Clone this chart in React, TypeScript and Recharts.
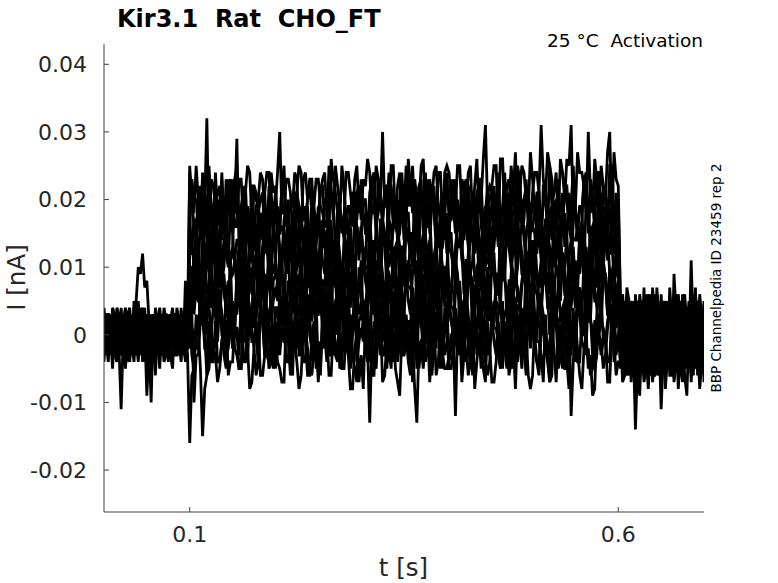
import React from 'react';
import { LineChart, Line, XAxis, YAxis } from 'recharts';

// time in ms (0 .. 700, 2.5 ms grid)
const timeMs = [
  0, 2.5, 5, 7.5, 10, 12.5, 15, 17.5, 20, 22.5, 25, 27.5, 30, 32.5, 35, 37.5, 40, 42.5, 45, 47.5,
  50, 52.5, 55, 57.5, 60, 62.5, 65, 67.5, 70, 72.5, 75, 77.5, 80, 82.5, 85, 87.5, 90, 92.5, 95, 97.5,
  100, 102.5, 105, 107.5, 110, 112.5, 115, 117.5, 120, 122.5, 125, 127.5, 130, 132.5, 135, 137.5, 140, 142.5, 145, 147.5,
  150, 152.5, 155, 157.5, 160, 162.5, 165, 167.5, 170, 172.5, 175, 177.5, 180, 182.5, 185, 187.5, 190, 192.5, 195, 197.5,
  200, 202.5, 205, 207.5, 210, 212.5, 215, 217.5, 220, 222.5, 225, 227.5, 230, 232.5, 235, 237.5, 240, 242.5, 245, 247.5,
  250, 252.5, 255, 257.5, 260, 262.5, 265, 267.5, 270, 272.5, 275, 277.5, 280, 282.5, 285, 287.5, 290, 292.5, 295, 297.5,
  300, 302.5, 305, 307.5, 310, 312.5, 315, 317.5, 320, 322.5, 325, 327.5, 330, 332.5, 335, 337.5, 340, 342.5, 345, 347.5,
  350, 352.5, 355, 357.5, 360, 362.5, 365, 367.5, 370, 372.5, 375, 377.5, 380, 382.5, 385, 387.5, 390, 392.5, 395, 397.5,
  400, 402.5, 405, 407.5, 410, 412.5, 415, 417.5, 420, 422.5, 425, 427.5, 430, 432.5, 435, 437.5, 440, 442.5, 445, 447.5,
  450, 452.5, 455, 457.5, 460, 462.5, 465, 467.5, 470, 472.5, 475, 477.5, 480, 482.5, 485, 487.5, 490, 492.5, 495, 497.5,
  500, 502.5, 505, 507.5, 510, 512.5, 515, 517.5, 520, 522.5, 525, 527.5, 530, 532.5, 535, 537.5, 540, 542.5, 545, 547.5,
  550, 552.5, 555, 557.5, 560, 562.5, 565, 567.5, 570, 572.5, 575, 577.5, 580, 582.5, 585, 587.5, 590, 592.5, 595, 597.5,
  600, 602.5, 605, 607.5, 610, 612.5, 615, 617.5, 620, 622.5, 625, 627.5, 630, 632.5, 635, 637.5, 640, 642.5, 645, 647.5,
  650, 652.5, 655, 657.5, 660, 662.5, 665, 667.5, 670, 672.5, 675, 677.5, 680, 682.5, 685, 687.5, 690, 692.5, 695, 697.5,
  700,
];

// current in pA (1 nA = 1000 pA)
// before the step, samples at 0, 5, ... 95 ms
const preStep = [
  [1, -2, 3, -4, 0, 2, -3, 1, -1, 4, -2, 0, 3, -5, 1, -1, 2, -3, 0, 1],
  [-3, 2, -1, 3, -11, 1, 0, -2, 5, -1, 2, -4, 1, 3, -2, 0, -5, 2, -1, 0],
  [2, -4, 0, 1, 3, -2, 4, -1, -3, 2, -1, 3, -6, 0, 2, -3, 1, 4, -2, -1],
  [-1, 3, -3, 0, 2, -5, 1, 3, -1, -4, -9, 1, -2, 2, -4, 1, 3, -1, 2, -3],
  [4, -1, 2, -3, -1, 3, -2, 0, 10, 12, 8, -3, 0, 1, -1, 3, -2, 0, -4, 2],
  [0, 1, -5, 2, 1, 0, 3, -4, 2, 1, -3, 2, 4, -1, 0, -2, 1, -1, 3, -2],
  [-2, 0, 1, 4, -2, -1, 2, 1, -4, 0, 1, -10, 2, -3, 3, 1, -1, -2, 1, 4],
  [3, -3, 0, -1, 4, 1, -4, 2, 0, -2, 0, 2, -1, 4, -3, 2, 0, 3, -1, -4],
  [-4, 2, -2, 1, -3, 4, 0, -1, 3, 2, -1, 0, 3, -2, 1, -4, 2, 1, 0, 8],
  [0, -1, 2, -2, 1, -3, -1, 5, 1, -3, 2, -2, -1, 1, 4, 0, -3, -1, 2, -2],
  [2, -1, -3, 1, 3, -2, 0, 4, -2, 1, -4, 2, 0, -1, 3, -3, 1, -2, 4, 0],
  [-1, 3, 0, -4, 2, 1, -3, 0, 2, -2, 3, -1, -4, 2, 0, 3, -2, 1, -3, 2],
  [3, 0, -2, 2, -3, 4, 1, -3, 0, 3, -2, 1, 2, -4, -1, 2, 0, -3, 1, -1],
  [-2, 1, 4, -1, 0, -3, 2, 1, -2, 0, 2, -3, 1, 3, -2, -1, 4, 0, -2, 3],
];
// before the step, samples at 2.5, 7.5, ... 97.5 ms
const preStepMid = [
  [-2, 1, -3, 2, 1, -4, 2, 0, 3, -2, 1, -3, -1, 2, -2, 3, -1, 0, 2, -3],
  [2, -1, 3, -2, 0, 2, -3, 1, -1, 3, -2, 1, 3, -2, 1, -3, 2, -1, 3, -1],
  [-1, 3, -2, -3, 1, 3, -1, 2, 0, -4, 2, -1, 2, -3, 3, 0, -2, 2, -3, 1],
  [3, -2, 1, 2, -3, 0, 2, -3, 4, 1, -2, 3, -1, 0, -3, 2, 1, -2, 0, 2],
  [0, 2, -1, 1, -2, -1, 3, 5, 9, 7, 2, 0, -2, 3, 1, -2, 3, -1, 1, -2],
  [-3, 0, 2, -1, 3, -2, -1, 1, -2, 4, 0, -3, 1, 2, -1, 2, -3, 1, -2, 3],
  [1, -3, -2, 3, 0, 2, -2, -1, 2, -3, -1, 2, 0, -2, 3, -1, 2, -3, 1, 0],
  [-2, 2, 3, -3, -1, 1, 0, -2, 3, 1, -3, -1, 2, 1, -2, 0, 3, -2, -1, 3],
  [2, -2, 0, 3, -1, -3, 2, 3, -2, 0, 2, -2, -3, 1, 2, -1, 0, 3, -2, 1],
  [-1, 1, -2, 0, 3, 1, -3, 2, 1, -2, 3, 0, -2, -1, 2, -3, 1, 2, -1, -2],
  [1, -2, 2, -3, 1, 3, -1, -2, 2, 0, -1, 3, -2, 1, -3, 1, 2, -1, 0, 2],
  [3, 0, -2, 1, -3, 2, 1, -1, -3, 2, 0, -2, 3, -1, 1, -2, 3, 0, -2, -1],
  [-2, 3, 1, -1, 2, -3, 0, 2, -1, -2, 3, 1, -1, 2, -2, 3, -3, 1, 2, 0],
  [0, -1, 3, -2, 2, 1, -3, 0, 2, 1, -2, 2, 1, -3, 0, 2, -1, -3, 1, 2],
];

// during the step, samples at 100, 105, ... 600 ms
const duringStep = [
  [
    -16, -5, 1, -15, -6, 0, -3, -5, 2, -6,
    -4, 1, -5, 0, -8, -2, 1, -6, -1, -4,
    0, -5, -7, -1, 2, -4, -6, 1, -5, -2,
    -7, -2, 0, -6, -1, 3, -5, -3, -8, 0,
    -3, 2, -13, -4, 1, -7, -1, 0, -5, -9,
    1, -4, -1, -13, -2, 0, -7, 2, -4, -3,
    -5, 0, -12, 1, -3, -6, 2, -4, -1, -7,
    -2, -7, 2, -5, 0, -4, -8, -1, 1, -6,
    -6, -1, -3, 3, -7, -2, 0, -5, -4, 2,
    2, -6, -2, -5, -9, 1, -3, 0, -7, -1,
    -4,
  ],
  [
    -2, -10, -3, 2, -6, 0, 3, -4, 1, -2,
    2, -3, -5, 1, 4, -2, -4, 3, -3, 0,
    -5, 0, 2, -4, 1, 5, -3, -1, -6, 2,
    -1, 4, -4, -2, 3, -5, 1, 2, -3, -7,
    3, -2, 1, -6, 0, 2, -5, 4, -2, -1,
    -3, 2, -7, 3, -1, -4, 4, -2, 1, -5,
    0, -5, 4, -3, 2, -2, -6, 1, 3, -4,
    -4, 1, -1, 5, -5, 0, 2, -3, -2, 4,
    4, -4, 0, -3, -7, 3, -1, 2, -5, -12,
    1, -4, 3, -2, -5, 2, -1, -3, 4, -4,
    0,
  ],
  [
    5, 0, -2, 4, 7, 1, -1, 6, 0, 3,
    -2, 3, 5, -1, 4, 8, 0, 2, -3, 5,
    2, 7, -1, 1, 6, -2, 4, 5, 0, -4,
    6, 1, 4, -3, 3, 5, -2, 7, 1, 2,
    0, 5, -4, 6, 2, -1, 7, 1, 4, -2,
    3, -2, 7, 0, 5, 1, -3, 4, 6, -1,
    -1, 4, 2, 8, -2, 3, 5, 0, 1, 7,
    7, -1, 3, 0, -4, 6, 2, 5, -2, 4,
    4, -1, 6, 1, -2, 5, 2, 0, 7, -1,
    1, 6, 0, 5, -3, 3, 6, -1, 4, 1,
    2,
  ],
  [
    1, 6, 8, 2, 7, 11, 3, 5, 0, 8,
    5, 10, 2, 4, 9, 1, 7, 8, 3, -1,
    9, 4, 7, 0, 6, 8, 1, 10, 4, 5,
    3, 8, -1, 9, 5, 2, 10, 4, 7, 1,
    6, 1, 10, 3, 8, 4, 0, 7, 9, 2,
    2, 7, 5, 11, 1, 6, 8, 3, 4, 10,
    10, 2, 6, 3, -1, 9, 5, 8, 1, 7,
    7, 2, 9, 4, 1, 8, 5, 3, 10, 2,
    4, 9, 3, 8, 0, 6, 9, 2, 7, 4,
    8, 3, 1, 7, 10, 4, 2, 9, 3, 6,
    5,
  ],
  [
    8, 13, 5, 7, 12, 4, 10, 11, 6, 2,
    12, 7, 10, 3, 9, 11, 4, 13, 7, 8,
    6, 11, 2, 12, 8, 5, 13, 7, 10, 4,
    9, 4, 13, 6, 11, 7, 3, 10, 12, 5,
    5, 10, 8, 14, 4, 9, 11, 6, 7, 13,
    13, 5, 9, 6, 2, 12, 8, 11, 4, 10,
    10, 5, 12, 7, 4, 11, 8, 6, 13, 5,
    7, 12, 6, 11, 3, 9, 12, 5, 10, 7,
    11, 6, 4, 10, 13, 7, 5, 12, 6, 9,
    4, 9, 11, 5, 10, 14, 6, 8, 3, 11,
    8,
  ],
  [
    15, 10, 13, 6, 12, 14, 7, 16, 10, 11,
    9, 14, 5, 15, 11, 8, 16, 10, 13, 7,
    12, 7, 16, 9, 14, 10, 6, 13, 15, 8,
    8, 13, 11, 17, 7, 12, 14, 9, 10, 16,
    16, 8, 12, 9, 5, 15, 11, 14, 7, 13,
    13, 8, 15, 10, 7, 14, 11, 9, 16, 8,
    10, 15, 9, 14, 6, 12, 15, 8, 13, 10,
    14, 9, 7, 13, 16, 10, 8, 15, 9, 12,
    7, 12, 14, 8, 13, 17, 9, 11, 6, 14,
    11, 16, 8, 10, 15, 7, 13, 14, 9, 5,
    11,
  ],
  [
    12, 17, 8, 18, 14, 11, 19, 13, 16, 10,
    15, 10, 19, 12, 17, 13, 9, 16, 18, 11,
    11, 16, 14, 20, 10, 15, 17, 12, 13, 19,
    19, 11, 15, 12, 8, 18, 14, 17, 10, 16,
    16, 11, 18, 13, 10, 17, 14, 12, 19, 11,
    13, 18, 12, 17, 9, 15, 18, 11, 16, 13,
    17, 12, 10, 16, 19, 13, 11, 18, 12, 15,
    10, 15, 17, 11, 16, 20, 12, 14, 9, 17,
    14, 19, 11, 13, 18, 10, 16, 17, 12, 8,
    18, 13, 16, 9, 15, 17, 10, 19, 13, 14,
    14,
  ],
  [
    17, 12, 21, 14, 19, 15, 11, 18, 20, 13,
    13, 18, 16, 22, 12, 17, 19, 14, 15, 21,
    21, 13, 17, 14, 10, 20, 16, 19, 12, 18,
    18, 13, 20, 15, 12, 19, 16, 14, 21, 13,
    15, 20, 14, 19, 11, 17, 20, 13, 18, 15,
    19, 14, 12, 18, 21, 15, 13, 20, 14, 17,
    12, 17, 19, 13, 18, 22, 14, 16, 11, 19,
    16, 21, 13, 15, 20, 12, 18, 19, 14, 10,
    20, 15, 18, 11, 17, 19, 12, 21, 15, 16,
    14, 19, 10, 20, 16, 13, 21, 15, 18, 12,
    16,
  ],
  [
    15, 20, 18, 24, 14, 19, 21, 16, 17, 23,
    23, 29, 19, 16, 12, 22, 18, 21, 14, 20,
    20, 15, 22, 17, 14, 21, 18, 16, 23, 15,
    17, 22, 16, 21, 13, 19, 22, 15, 20, 17,
    21, 16, 14, 20, 23, 17, 15, 22, 16, 19,
    14, 19, 21, 15, 20, 24, 16, 18, 13, 21,
    18, 23, 15, 17, 22, 14, 20, 21, 16, 12,
    22, 17, 20, 13, 19, 21, 14, 23, 17, 18,
    16, 21, 12, 22, 18, 15, 23, 17, 20, 14,
    19, 14, 23, 16, 21, 17, 13, 20, 22, 15,
    18,
  ],
  [
    24, 16, 20, 17, 32, 23, 19, 22, 15, 21,
    21, 16, 23, 18, 15, 22, 19, 17, 24, 16,
    19, 30, 18, 23, 15, 21, 24, 17, 22, 19,
    23, 18, 16, 22, 25, 19, 17, 24, 18, 21,
    17, 22, 24, 18, 23, 30, 19, 21, 16, 24,
    21, 26, 18, 20, 25, 17, 23, 24, 19, 15,
    25, 20, 23, 16, 22, 24, 17, 26, 20, 31,
    20, 25, 16, 26, 22, 19, 27, 21, 24, 18,
    23, 18, 31, 20, 25, 21, 17, 24, 26, 31,
    19, 24, 22, 30, 18, 23, 25, 20, 30, 27,
    22,
  ],
  [
    3, -5, 1, 4, -2, -4, 2, 5, -3, 0,
    -2, 1, 5, -4, 3, -1, -5, 2, 4, -3,
    4, -3, -1, 5, -6, 2, 1, -4, 3, -2,
    -5, 2, 4, -1, -3, 5, -2, 3, 0, -4,
    1, 4, -4, 2, 5, -3, 3, -5, 2, -1,
    -3, -1, 3, -5, 2, 4, -4, 1, 5, -2,
    5, -2, 0, 3, -4, -1, 4, -3, -5, 2,
    -1, 5, -3, 1, 4, -5, 0, 3, -2, 4,
    2, -4, 5, -2, -1, 3, -5, 4, 1, -3,
    -4, 3, -2, 6, 1, -3, 2, -1, -4, 5,
    0,
  ],
  [
    10, 3, 5, 11, 0, 8, 7, 2, 9, 4,
    1, 8, 10, 5, 3, 11, 4, 9, 6, 2,
    7, 10, 2, 8, 11, 3, 9, 1, 8, 5,
    3, 5, 9, 1, 8, 10, 2, 7, 11, 4,
    11, 4, 6, 9, 2, 5, 10, 3, 1, 8,
    5, 11, 3, 7, 10, 1, 6, 9, 4, 10,
    8, 2, 11, 4, 5, 9, 1, 10, 7, 3,
    2, 9, 4, 12, 7, 3, 8, 5, 2, 11,
    9, 1, 7, 10, 4, 2, 8, 11, 3, 6,
    4, 7, 11, 2, 9, 5, 1, 8, 10, 3,
    6,
  ],
  [
    13, 16, 8, 14, 17, 9, 15, 7, 14, 11,
    9, 11, 15, 7, 14, 16, 8, 13, 17, 10,
    17, 10, 12, 15, 8, 11, 16, 9, 7, 14,
    11, 17, 9, 13, 16, 7, 12, 15, 10, 16,
    14, 8, 17, 10, 11, 15, 7, 16, 13, 9,
    8, 15, 10, 18, 13, 9, 14, 11, 8, 17,
    15, 7, 13, 16, 10, 8, 14, 17, 9, 12,
    10, 13, 17, 8, 15, 11, 7, 14, 16, 9,
    16, 9, 11, 17, 6, 14, 13, 8, 15, 10,
    7, 14, 16, 11, 9, 17, 10, 15, 12, 8,
    12,
  ],
  [
    25, 18, 20, 23, 16, 19, 24, 17, 15, 22,
    19, 25, 17, 21, 24, 15, 20, 23, 18, 24,
    22, 16, 25, 18, 19, 23, 15, 24, 21, 17,
    16, 23, 18, 26, 21, 17, 22, 19, 16, 25,
    23, 15, 21, 24, 18, 16, 22, 25, 17, 20,
    18, 21, 25, 16, 23, 19, 15, 22, 24, 17,
    24, 17, 19, 25, 14, 22, 21, 16, 23, 18,
    15, 22, 24, 19, 17, 25, 18, 23, 20, 16,
    21, 24, 16, 22, 25, 17, 23, 15, 22, 19,
    17, 19, 23, 15, 22, 24, 16, 21, 25, 18,
    20,
  ],
];

// during the step, samples at 102.5, 107.5, ... 597.5 ms
const duringStepMid = [
  [
    -6, 1, -5, -8, 0, -2, -7, -1, 2, -4,
    1, -5, 0, -2, -7, 2, -6, -3, -5, 0,
    -4, -7, 2, -6, -1, -8, 1, -2, -6, -1,
    -1, 2, -6, 1, -4, -5, 0, -8, -2, -7,
    -8, -2, -1, -5, 2, -6, -4, 1, -7, 0,
    0, -6, -8, -1, -5, 1, -2, -6, 2, -5,
    -3, 0, 1, -7, -2, -4, -8, 0, -5, 2,
    -7, -4, -2, 2, -6, -1, 1, -5, 0, -8,
    2, -1, -7, -4, 1, -7, -3, 2, -8, -2,
    -2, -8, 0, -3, -8, 0, -1, -7, 1, -6,
  ],
  [
    3, -3, 2, 0, -5, 4, -4, -1, -3, 2,
    -2, -5, 4, -4, 1, -6, 3, 0, -4, 1,
    1, 4, -4, 3, -2, -3, 2, -6, 0, -5,
    -6, 0, 1, -3, 4, -4, -2, 3, -5, 2,
    2, -4, -6, 1, -3, 3, 0, -4, 4, -3,
    -1, 2, 3, -5, 0, -2, -6, 2, -3, 4,
    -5, -2, 0, 4, -4, 1, 3, -3, 2, -6,
    4, 1, -5, -2, 3, -5, -1, 4, -6, 0,
    0, -6, 2, -1, -6, 2, 1, -5, 3, -4,
    -4, 3, -3, -6, 2, 0, -5, 1, 4, -2,
  ],
  [
    1, -2, 7, -1, 4, -3, 6, 3, -1, 4,
    4, 7, -1, 6, 1, 0, 5, -3, 3, -2,
    -3, 3, 4, 0, 7, -1, 1, 6, -2, 5,
    5, -1, -3, 4, 0, 6, 3, -1, 7, 0,
    2, 5, 6, -2, 3, 1, -3, 5, 0, 7,
    -2, 1, 3, 7, -1, 4, 6, 0, 5, -3,
    7, 4, -2, 1, 6, -2, 2, 7, -3, 3,
    3, -3, 5, 2, -3, 5, 4, -2, 6, -1,
    -1, 6, 0, -3, 5, 3, -2, 4, 7, 1,
    6, 0, 5, 3, -2, 7, -1, 2, 0, 5,
  ],
  [
    7, 10, 2, 9, 4, 3, 8, 0, 6, 1,
    0, 6, 7, 3, 10, 2, 4, 9, 1, 8,
    8, 2, 0, 7, 3, 9, 6, 2, 10, 3,
    5, 8, 9, 1, 6, 4, 0, 8, 3, 10,
    1, 4, 6, 10, 2, 7, 9, 3, 8, 0,
    10, 7, 1, 4, 9, 1, 5, 10, 0, 6,
    6, 0, 8, 5, 0, 8, 7, 1, 9, 2,
    2, 9, 3, 0, 8, 6, 1, 7, 10, 4,
    9, 3, 8, 6, 1, 10, 2, 5, 3, 8,
    4, 1, 10, 2, 7, 0, 9, 6, 2, 7,
  ],
  [
    3, 9, 10, 6, 13, 5, 7, 12, 4, 11,
    11, 5, 3, 10, 6, 12, 9, 5, 13, 6,
    8, 11, 12, 4, 9, 7, 3, 11, 6, 13,
    4, 7, 9, 13, 5, 10, 12, 6, 11, 3,
    13, 10, 4, 7, 12, 4, 8, 13, 3, 9,
    9, 3, 11, 8, 3, 11, 10, 4, 12, 5,
    5, 12, 6, 3, 11, 9, 4, 10, 13, 7,
    12, 6, 11, 9, 4, 13, 5, 8, 6, 11,
    7, 4, 13, 5, 10, 3, 12, 9, 5, 10,
    10, 13, 5, 12, 7, 6, 11, 3, 9, 4,
  ],
  [
    14, 8, 6, 13, 9, 15, 12, 8, 16, 9,
    11, 14, 15, 7, 12, 10, 6, 14, 9, 16,
    7, 10, 12, 16, 8, 13, 15, 9, 14, 6,
    16, 13, 7, 10, 15, 7, 11, 16, 6, 12,
    12, 6, 14, 11, 6, 14, 13, 7, 15, 8,
    8, 15, 9, 6, 14, 12, 7, 13, 16, 10,
    15, 9, 14, 12, 7, 16, 8, 11, 9, 14,
    10, 7, 16, 8, 13, 6, 15, 12, 8, 13,
    13, 16, 8, 15, 10, 9, 14, 6, 12, 7,
    6, 12, 13, 9, 16, 8, 10, 15, 7, 14,
  ],
  [
    14, 17, 18, 10, 15, 13, 9, 17, 12, 19,
    10, 13, 15, 19, 11, 16, 18, 12, 17, 9,
    19, 16, 10, 13, 18, 10, 14, 19, 9, 15,
    15, 9, 17, 14, 9, 17, 16, 10, 18, 11,
    11, 18, 12, 9, 17, 15, 10, 16, 19, 13,
    18, 12, 17, 15, 10, 19, 11, 14, 12, 17,
    13, 10, 19, 11, 16, 9, 18, 15, 11, 16,
    16, 19, 11, 18, 13, 12, 17, 9, 15, 10,
    9, 15, 16, 12, 19, 11, 13, 18, 10, 17,
    17, 11, 9, 16, 12, 18, 15, 11, 19, 12,
  ],
  [
    12, 15, 17, 21, 13, 18, 20, 14, 19, 11,
    21, 18, 12, 15, 20, 12, 16, 21, 11, 17,
    17, 11, 19, 16, 11, 19, 18, 12, 20, 13,
    13, 20, 14, 11, 19, 17, 12, 18, 21, 15,
    20, 14, 19, 17, 12, 21, 13, 16, 14, 19,
    15, 12, 21, 13, 18, 11, 20, 17, 13, 18,
    18, 21, 13, 20, 15, 14, 19, 11, 17, 12,
    11, 17, 18, 14, 21, 13, 15, 20, 12, 19,
    19, 13, 11, 18, 14, 20, 17, 13, 21, 14,
    16, 19, 20, 12, 17, 15, 11, 19, 14, 21,
  ],
  [
    23, 20, 14, 17, 22, 14, 18, 23, 13, 19,
    19, 13, 21, 18, 13, 21, 20, 14, 22, 15,
    15, 22, 16, 13, 21, 19, 14, 20, 23, 17,
    22, 16, 21, 19, 14, 23, 15, 18, 16, 21,
    17, 14, 23, 15, 20, 13, 22, 19, 15, 20,
    20, 23, 15, 22, 17, 16, 21, 13, 19, 14,
    13, 19, 20, 16, 23, 15, 17, 22, 14, 21,
    21, 15, 13, 20, 16, 22, 19, 15, 23, 16,
    18, 21, 22, 14, 19, 17, 13, 21, 16, 23,
    14, 17, 19, 23, 15, 20, 22, 16, 21, 13,
  ],
  [
    20, 14, 22, 19, 14, 22, 21, 15, 23, 16,
    16, 23, 17, 14, 22, 20, 15, 21, 24, 18,
    24, 18, 23, 21, 16, 25, 17, 20, 18, 23,
    19, 16, 25, 17, 22, 15, 24, 21, 17, 22,
    23, 26, 18, 25, 20, 19, 24, 16, 22, 17,
    16, 22, 23, 19, 26, 18, 20, 25, 17, 24,
    24, 18, 16, 23, 19, 25, 22, 18, 26, 19,
    22, 25, 26, 18, 23, 21, 17, 25, 20, 27,
    18, 21, 23, 27, 19, 24, 26, 20, 25, 17,
    27, 24, 18, 21, 26, 18, 22, 27, 17, 23,
  ],
  [
    -3, 3, 5, -2, 2, -4, -1, 3, -5, 2,
    0, -3, -4, 4, -1, 1, 5, -3, 2, -5,
    4, 1, -1, -5, 3, -2, -4, 2, -3, 5,
    -5, -2, 4, 1, -4, 4, 0, -5, 5, -1,
    -1, 5, -3, 0, 5, -3, -2, 4, -4, 3,
    3, -4, 2, 5, -3, -1, 4, -2, -5, 1,
    -4, 2, -3, -1, 4, -5, 3, 0, 2, -3,
    1, 4, -5, 3, -2, 5, -4, -1, 3, -2,
    -2, -5, 3, -4, 1, 2, -3, 5, -1, 4,
    5, -1, -2, 2, -5, 3, 1, -4, 4, -3,
  ],
  [
    10, 7, 5, 1, 9, 4, 2, 8, 3, 11,
    1, 4, 10, 7, 2, 10, 6, 1, 11, 5,
    5, 11, 3, 6, 11, 3, 4, 10, 2, 9,
    9, 2, 8, 11, 3, 5, 10, 4, 1, 7,
    2, 8, 3, 5, 10, 1, 9, 6, 8, 3,
    7, 10, 1, 9, 4, 11, 2, 5, 9, 4,
    4, 1, 9, 2, 7, 8, 3, 11, 5, 10,
    11, 5, 4, 8, 1, 9, 7, 2, 10, 3,
    3, 9, 11, 4, 8, 2, 5, 9, 1, 8,
    6, 3, 2, 10, 5, 7, 11, 3, 8, 1,
  ],
  [
    13, 16, 7, 15, 10, 17, 8, 11, 15, 10,
    10, 7, 15, 8, 13, 14, 9, 17, 11, 16,
    17, 11, 10, 14, 7, 15, 13, 8, 16, 9,
    9, 15, 17, 10, 14, 8, 11, 15, 7, 14,
    12, 9, 8, 16, 11, 13, 17, 9, 14, 7,
    16, 13, 11, 7, 15, 10, 8, 14, 9, 17,
    7, 10, 16, 13, 8, 16, 12, 7, 17, 11,
    11, 17, 9, 12, 17, 9, 10, 16, 8, 15,
    15, 8, 14, 17, 9, 11, 16, 10, 7, 13,
    8, 14, 9, 11, 16, 7, 15, 12, 14, 9,
  ],
  [
    19, 25, 17, 20, 25, 17, 18, 24, 16, 23,
    23, 16, 22, 25, 17, 19, 24, 18, 15, 21,
    16, 22, 17, 19, 24, 15, 23, 20, 22, 17,
    21, 24, 15, 23, 18, 25, 16, 19, 23, 18,
    18, 15, 23, 16, 21, 22, 17, 25, 19, 24,
    25, 19, 18, 22, 15, 23, 21, 16, 24, 17,
    17, 23, 25, 18, 22, 16, 19, 23, 15, 22,
    20, 17, 16, 24, 19, 21, 25, 17, 22, 15,
    24, 21, 19, 15, 23, 18, 16, 22, 17, 25,
    15, 18, 24, 21, 16, 24, 20, 15, 25, 19,
  ],
];

// after the step, samples at 605, 610, ... 700 ms
const postStep = [
  [2, -6, 3, -2, 5, -4, 0, -7, 4, -1, 2, -5, 6, -3, -1, 3, -6, 1, -2, 4],
  [-5, 1, -3, 6, -2, 0, -8, 3, -4, 5, -1, -3, 2, -6, 4, 0, -2, 7, -4, 1],
  [3, -4, -1, 2, -9, 4, -2, 5, -3, 0, -6, 3, -1, 4, -5, -2, 6, -3, 1, -7],
  [-2, 5, -6, 0, 3, -3, 6, -5, 1, -4, 4, -2, -7, 1, 3, -5, 0, 2, -6, 3],
  [6, -3, 2, -5, -1, 7, -4, 1, -2, 3, -8, 5, 0, -4, 2, 1, 11, -1, 5, -2],
  [-7, 2, 4, -14, 1, -6, 3, -1, 5, -11, 1, -2, 4, -5, 0, 3, -4, 6, -1, -3],
  [1, -2, -5, 4, -3, 2, -1, -6, 3, 1, -4, 7, -3, 0, -6, 2, 4, -5, 3, 0],
  [-3, 7, 0, -4, 6, -2, -5, 2, -1, 4, -3, 0, 9, -2, -4, 1, -7, 3, -2, 5],
  [4, -5, 1, 3, -6, 0, 2, -4, 7, -2, 5, -6, 1, -3, 6, -1, -3, 4, -8, 2],
  [-1, 3, -2, -7, 2, 5, -3, 0, -5, 6, -2, 4, -4, 3, -1, -9, 2, -2, 4, -5],
  [5, -3, 0, -6, 3, 1, -4, 6, -2, -5, 3, 0, -3, 5, -7, 2, -1, 4, -4, 1],
  [-4, 2, -7, 3, 0, -5, 4, -2, 6, -3, -1, 5, -6, 2, -2, 4, -5, 0, 3, -6],
  [1, 6, -4, -1, 4, -7, 2, -3, 0, 5, -5, 2, 3, -8, 1, -3, 5, -2, -4, 2],
  [-6, 0, 5, -3, -4, 3, -2, 7, -6, 1, 4, -4, -2, 6, -3, 0, -5, 1, 6, -2],
];
// after the step, samples at 602.5, 607.5, ... 697.5 ms
const postStepMid = [
  [-4, 1, -5, 2, -2, 3, -6, 1, -3, 2, 5, -4, 0, 2, -5, 4, -2, -4, 3, -1],
  [3, -4, 2, -5, 1, 4, -3, -1, 6, -2, -5, 1, 4, -3, 0, -5, 3, -1, -6, 4],
  [-1, 5, -3, 4, -6, 0, 3, -4, 2, -5, 3, -2, -4, 6, -2, 1, -5, 4, -2, 2],
  [4, -2, 1, -6, 2, -5, 1, 4, -3, 3, -6, 2, 0, -4, 5, -3, 2, -6, 4, -1],
  [-3, 2, -4, 3, 4, -2, -5, 3, 0, -6, 2, -3, 5, -1, -4, 6, -2, 1, -3, 4],
  [1, -6, 3, -1, -4, 5, -2, -5, 4, 0, -3, 5, -2, 3, -6, 1, 4, -3, 2, -5],
  [-5, 3, 0, -2, 5, -4, 2, -3, -6, 4, 1, -4, 2, -5, 3, -2, -1, 5, -4, 1],
  [2, -3, 5, -5, -1, 3, -4, 6, -2, -3, 4, -1, -5, 3, 1, -4, 5, -2, 0, -3],
  [-2, 4, -6, 1, 3, -3, 5, -2, -4, 2, -1, 3, -6, 4, -3, 2, -4, 6, -1, -4],
  [5, -1, -3, 2, -5, 1, 4, -6, 3, -2, 0, -5, 3, -2, 4, -6, 1, -3, 5, 0],
  [-4, 3, -2, 5, -3, -1, 6, -4, 1, -2, 5, -3, -1, 4, -5, 3, 0, -4, 2, -3],
  [2, -5, 4, -2, 1, -4, -1, 5, -3, 2, -4, 3, -2, -5, 4, -1, 2, -3, 5, -2],
  [-3, 0, 3, -4, 5, -2, -5, 2, 4, -6, 0, 4, -3, 1, -2, 5, -4, 2, -1, 3],
  [4, -4, -1, 3, -2, 5, -3, -6, 2, 3, -5, 1, 5, -3, 2, -4, 3, -5, 0, 2],
];

const xTicks = [100, 600];
const yTicks = [-20, -10, 0, 10, 20, 30, 40];

// each sweep, in time order
const traces = preStep.map((pre, k) => {
  const out: number[] = [];
  pre.forEach((v, i) => {
    out.push(v, preStepMid[k][i]);
  });
  duringStep[k].forEach((v, i) => {
    out.push(v);
    if (i < duringStepMid[k].length) out.push(duringStepMid[k][i]);
  });
  postStep[k].forEach((v, i) => {
    out.push(postStepMid[k][i], v);
  });
  return out;
});

const data = timeMs.map((t, i) => {
  const row: Record<string, number> = { t };
  traces.forEach((tr, k) => {
    row['s' + k] = tr[i];
  });
  return row;
});

const FONT = "'DejaVu Sans', sans-serif";
const AXIS = '#404040';
const fmtX = (v: number) => String(v / 1000);
const fmtY = (v: number) => (v === 0 ? '0' : String(v / 1000));

const X_MARGIN = 14;
const Y_MARGIN = 17;
const TICK_LEN = 5;

// bottom-axis tick: inward tick mark plus label
const XTick = (props: any) => {
  const { x, y, payload } = props;
  const axisY = y - X_MARGIN;
  return (
    <g>
      <line x1={x} x2={x} y1={axisY} y2={axisY - TICK_LEN} stroke={AXIS} strokeWidth={1} />
      <text x={x} y={y} dy="0.71em" textAnchor="middle" fill="#262626" fontSize={22} fontFamily={FONT}>
        {fmtX(payload.value)}
      </text>
    </g>
  );
};

// left-axis tick: inward tick mark plus label
const YTick = (props: any) => {
  const { x, y, payload } = props;
  const axisX = x + Y_MARGIN;
  return (
    <g>
      <line x1={axisX} x2={axisX + TICK_LEN} y1={y} y2={y} stroke={AXIS} strokeWidth={1} />
      <text x={x} y={y} dy="0.355em" textAnchor="end" fill="#262626" fontSize={22} fontFamily={FONT}>
        {fmtY(payload.value)}
      </text>
    </g>
  );
};

export default function App() {
  return (
    <div style={{ position: 'absolute', left: 0, top: 0, width: 778, height: 583, background: '#fff' }}>
      <LineChart width={778} height={583} data={data} margin={{ top: 44, right: 74, bottom: 70, left: 103 }}>
        <XAxis
          type="number"
          dataKey="t"
          domain={[0, 700]}
          ticks={xTicks}
          height={1}
          tickSize={0}
          tickLine={false}
          tickMargin={X_MARGIN}
          stroke={AXIS}
          tick={<XTick />}
          allowDataOverflow
          interval={0}
        />
        <YAxis
          type="number"
          domain={[-26.2, 43]}
          ticks={yTicks}
          width={1}
          tickSize={0}
          tickLine={false}
          tickMargin={Y_MARGIN}
          stroke={AXIS}
          tick={<YTick />}
          allowDataOverflow
          interval={0}
        />
        {traces.map((_, k) => (
          <Line
            key={k}
            type="linear"
            dataKey={'s' + k}
            stroke="#000"
            strokeWidth={2.8}
            strokeLinejoin="miter"
            dot={false}
            activeDot={false}
            isAnimationActive={false}
          />
        ))}
      </LineChart>
      <svg width={778} height={583} style={{ position: 'absolute', left: 0, top: 0, pointerEvents: 'none' }}>
        <text x={117} y={27} fontFamily={FONT} fontSize={24} fontWeight="bold" fill="#000" style={{ whiteSpace: 'pre' }}>
          Kir3.1  Rat  CHO_FT
        </text>
        <text x={703} y={47} fontFamily={FONT} fontSize={18.5} fill="#000" textAnchor="end" style={{ whiteSpace: 'pre' }}>
          25 °C  Activation
        </text>
        <text
          transform="translate(721,278) rotate(-90)"
          fontFamily={FONT}
          fontSize={13.5}
          fill="#000"
          textAnchor="middle"
        >
          BBP Channelpedia ID 23459 rep 2
        </text>
        <text transform="translate(25,277.5) rotate(-90)" fontFamily={FONT} fontSize={24.5} fill="#262626" textAnchor="middle">
          I [nA]
        </text>
        <text x={403.5} y={576} fontFamily={FONT} fontSize={24.5} fill="#262626" textAnchor="middle">
          t [s]
        </text>
      </svg>
    </div>
  );
}
